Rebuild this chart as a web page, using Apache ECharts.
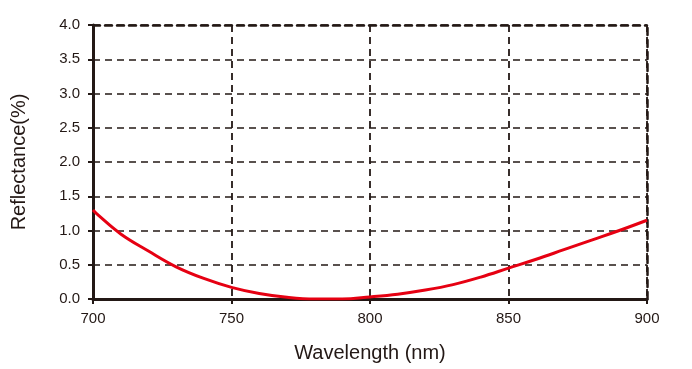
<!DOCTYPE html>
<html>
<head>
<meta charset="utf-8">
<script src="https://cdn.jsdelivr.net/npm/echarts@6/dist/echarts.min.js"></script>
<style>html,body{margin:0;padding:0;background:#fff;}#c{width:692px;height:369px;}</style>
</head>
<body>
<div id="c"></div>
<script>
var wavelengths = [700, 702, 710, 720, 730, 740, 750, 760, 770, 780, 790, 800, 810, 820, 830, 840, 850, 860, 870, 880, 890, 900];
var reflectance = [1.30, 1.22, 0.95, 0.70, 0.47, 0.30, 0.17, 0.08, 0.025, 0.0, 0.0, 0.03, 0.07, 0.13, 0.21, 0.32, 0.45, 0.58, 0.72, 0.86, 1.00, 1.15];
var xTicks = [700, 750, 800, 850, 900];
var yTicks = [0, 0.5, 1, 1.5, 2, 2.5, 3, 3.5, 4];

var ink = '#231815';
var font = 'Liberation Sans, Arial, sans-serif';
var chart = echarts.init(document.getElementById('c'));
chart.setOption({
  animation: false,
  backgroundColor: '#fff',
  grid: {left: 93, right: 45, top: 25, bottom: 70},
  xAxis: [{
    type: 'value', min: xTicks[0], max: xTicks[xTicks.length - 1], interval: 50,
    name: 'Wavelength (nm)', nameLocation: 'middle', nameGap: 44,
    nameTextStyle: {fontFamily: font, fontSize: 20, color: ink},
    axisLine: {show: true, lineStyle: {color: ink, width: 3}},
    axisTick: {show: true, inside: false, length: 5, lineStyle: {color: ink, width: 2}},
    axisLabel: {fontFamily: font, fontSize: 15, color: ink, margin: 12},
    splitLine: {show: true, lineStyle: {color: ink, width: 1.8, type: [7, 5]}}
  }, {
    type: 'value', position: 'top', min: xTicks[0], max: xTicks[xTicks.length - 1], interval: 50,
    axisLine: {show: true, onZero: false, lineStyle: {color: ink, width: 2.5, type: [7, 5]}},
    axisTick: {show: false}, axisLabel: {show: false}, splitLine: {show: false}
  }],
  yAxis: [{
    type: 'value', min: 0, max: 4, interval: 0.5,
    name: 'Reflectance(%)', nameLocation: 'middle', nameGap: 64,
    nameTextStyle: {fontFamily: font, fontSize: 20, color: ink},
    axisLine: {show: true, lineStyle: {color: ink, width: 3}},
    axisTick: {show: true, inside: false, length: 5, lineStyle: {color: ink, width: 2}},
    axisLabel: {fontFamily: font, fontSize: 15, color: ink, margin: 13,
      formatter: function (v) { return v.toFixed(1); }},
    splitLine: {show: true, lineStyle: {color: ink, width: 1.5, type: [7, 5]}}
  }, {
    type: 'value', position: 'right', min: 0, max: 4, interval: 0.5,
    axisLine: {show: true, onZero: false, lineStyle: {color: ink, width: 2.5, type: [7, 5]}},
    axisTick: {show: false}, axisLabel: {show: false}, splitLine: {show: false}
  }],
  series: [{
    type: 'line', xAxisIndex: 0, yAxisIndex: 0,
    data: wavelengths.map(function (w, i) { return [w, reflectance[i]]; }),
    smooth: 0.4, showSymbol: false, symbol: 'none',
    lineStyle: {color: '#e60012', width: 3}
  }]
});
</script>
</body>
</html>
